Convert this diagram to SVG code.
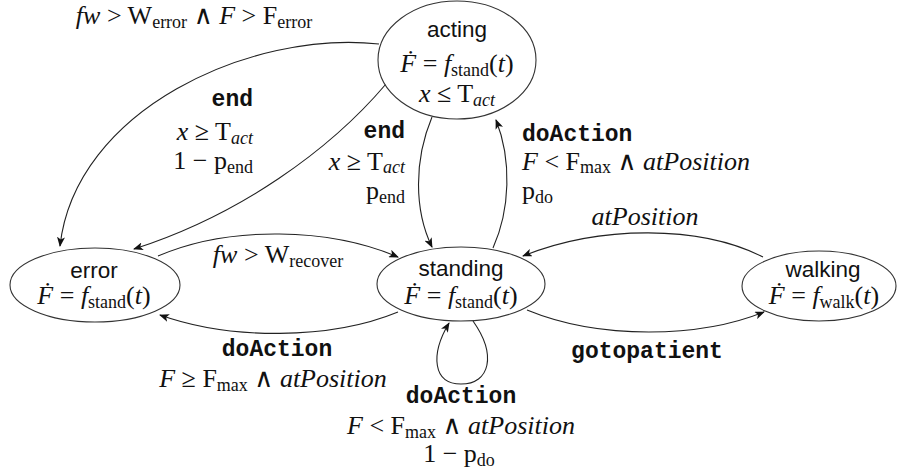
<svg xmlns="http://www.w3.org/2000/svg" width="898" height="476" viewBox="0 0 898 476">
<defs>
<style>
.node{fill:#fff;stroke:#333;stroke-width:1.1}
.edge{fill:none;stroke:#222;stroke-width:1.1}
.sans{font-family:"Liberation Sans",Arial,sans-serif;font-size:22.5px;fill:#111}
.m{font-family:"Liberation Serif","DejaVu Serif",serif;font-size:26px;fill:#111}
.i{font-style:italic}
.s{font-size:18px}
.tt{font-family:"Liberation Mono","DejaVu Sans Mono",monospace;font-weight:bold;font-size:23px;fill:#111}
</style>
<marker id="arr" markerWidth="10" markerHeight="8" refX="9" refY="4" orient="auto" markerUnits="userSpaceOnUse">
<path d="M0,0 L10,4 L0,8 L2.5,4 z" fill="#111"/>
</marker>
</defs>
<rect width="898" height="476" fill="#fff"/>

<g id="connectors">
<path class="edge" marker-end="url(#arr)" d="M379,44 C 250,30 75,110 60,246"/>
<path class="edge" marker-end="url(#arr)" d="M386,84 C 330,150 240,215 134,249"/>
<path class="edge" marker-end="url(#arr)" d="M432,117 C 414,160 414,210 432,247"/>
<path class="edge" marker-end="url(#arr)" d="M493,248 C 510,210 512,160 496,120"/>
<path class="edge" marker-end="url(#arr)" d="M763,257 C 700,225 600,225 523,256"/>
<path class="edge" marker-end="url(#arr)" d="M527,310 C 600,340 700,338 764,312"/>
<path class="edge" marker-end="url(#arr)" d="M158,256 C 230,225 330,228 398,257"/>
<path class="edge" marker-end="url(#arr)" d="M398,312 C 330,340 230,340 160,315"/>
<path class="edge" marker-end="url(#arr)" d="M473,321 C 497,355 490,384 461,384 C 433,384 430,355 449,323"/>
</g>

<g id="edge-labels">
<text class="m" x="194" y="24" text-anchor="middle"><tspan class="i">fw</tspan> &gt; W<tspan class="s" dy="4">error</tspan><tspan dy="-4"> ∧ </tspan><tspan class="i">F</tspan> &gt; F<tspan class="s" dy="4">error</tspan></text>

<text class="tt" x="253" y="106" text-anchor="end">end</text>
<text class="m" x="253" y="140" text-anchor="end"><tspan class="i">x</tspan> ≥ T<tspan class="s i" dy="4">act</tspan></text>
<text class="m" x="253" y="169" text-anchor="end">1 − p<tspan class="s" dy="4">end</tspan></text>

<text class="tt" x="405" y="138" text-anchor="end">end</text>
<text class="m" x="405" y="170" text-anchor="end"><tspan class="i">x</tspan> ≥ T<tspan class="s i" dy="3">act</tspan></text>
<text class="m" x="405" y="199" text-anchor="end">p<tspan class="s" dy="4">end</tspan></text>

<text class="tt" x="522" y="141">doAction</text>
<text class="m" x="522" y="170"><tspan class="i">F</tspan> &lt; F<tspan class="s" dy="3">max</tspan><tspan dy="-3"> ∧ </tspan><tspan class="i">atPosition</tspan></text>
<text class="m" x="522" y="199">p<tspan class="s" dy="4">do</tspan></text>

<text class="m i" x="645" y="225" text-anchor="middle">atPosition</text>

<text class="m" x="278" y="263" text-anchor="middle"><tspan class="i">fw</tspan> &gt; W<tspan class="s" dy="4">recover</tspan></text>

<text class="tt" x="277" y="356" text-anchor="middle">doAction</text>
<text class="m" x="273" y="387" text-anchor="middle"><tspan class="i">F</tspan> ≥ F<tspan class="s" dy="4">max</tspan><tspan dy="-4"> ∧ </tspan><tspan class="i">atPosition</tspan></text>

<text class="tt" x="647" y="358" text-anchor="middle">gotopatient</text>

<text class="tt" x="461" y="403" text-anchor="middle">doAction</text>
<text class="m" x="461" y="434" text-anchor="middle"><tspan class="i">F</tspan> &lt; F<tspan class="s" dy="4">max</tspan><tspan dy="-4"> ∧ </tspan><tspan class="i">atPosition</tspan></text>
<text class="m" x="459" y="462" text-anchor="middle">1 − p<tspan class="s" dy="4">do</tspan></text>
</g>

<g id="acting">
<ellipse class="node" cx="457" cy="60" rx="79" ry="59"/>
<text class="sans" x="457" y="37" text-anchor="middle">acting</text>
<text class="m" x="457" y="72" text-anchor="middle"><tspan class="i">Ḟ</tspan> = <tspan class="i">f</tspan><tspan class="s" dy="4">stand</tspan><tspan dy="-4">(</tspan><tspan class="i">t</tspan>)</text>
<text class="m" x="457" y="102" text-anchor="middle"><tspan class="i">x</tspan> ≤ T<tspan class="s i" dy="4">act</tspan></text>
</g>

<g id="error">
<ellipse class="node" cx="95" cy="285" rx="85" ry="37"/>
<text class="sans" x="94" y="278" text-anchor="middle">error</text>
<text class="m" x="94" y="304" text-anchor="middle"><tspan class="i">Ḟ</tspan> = <tspan class="i">f</tspan><tspan class="s" dy="4">stand</tspan><tspan dy="-4">(</tspan><tspan class="i">t</tspan>)</text>
</g>

<g id="standing">
<ellipse class="node" cx="461" cy="284" rx="84" ry="37"/>
<text class="sans" x="461" y="276" text-anchor="middle">standing</text>
<text class="m" x="461" y="304" text-anchor="middle"><tspan class="i">Ḟ</tspan> = <tspan class="i">f</tspan><tspan class="s" dy="4">stand</tspan><tspan dy="-4">(</tspan><tspan class="i">t</tspan>)</text>
</g>

<g id="walking">
<ellipse class="node" cx="819" cy="286" rx="77" ry="35"/>
<text class="sans" x="823" y="277" text-anchor="middle">walking</text>
<text class="m" x="824" y="304" text-anchor="middle"><tspan class="i">Ḟ</tspan> = <tspan class="i">f</tspan><tspan class="s" dy="4">walk</tspan><tspan dy="-4">(</tspan><tspan class="i">t</tspan>)</text>
</g>
</svg>
